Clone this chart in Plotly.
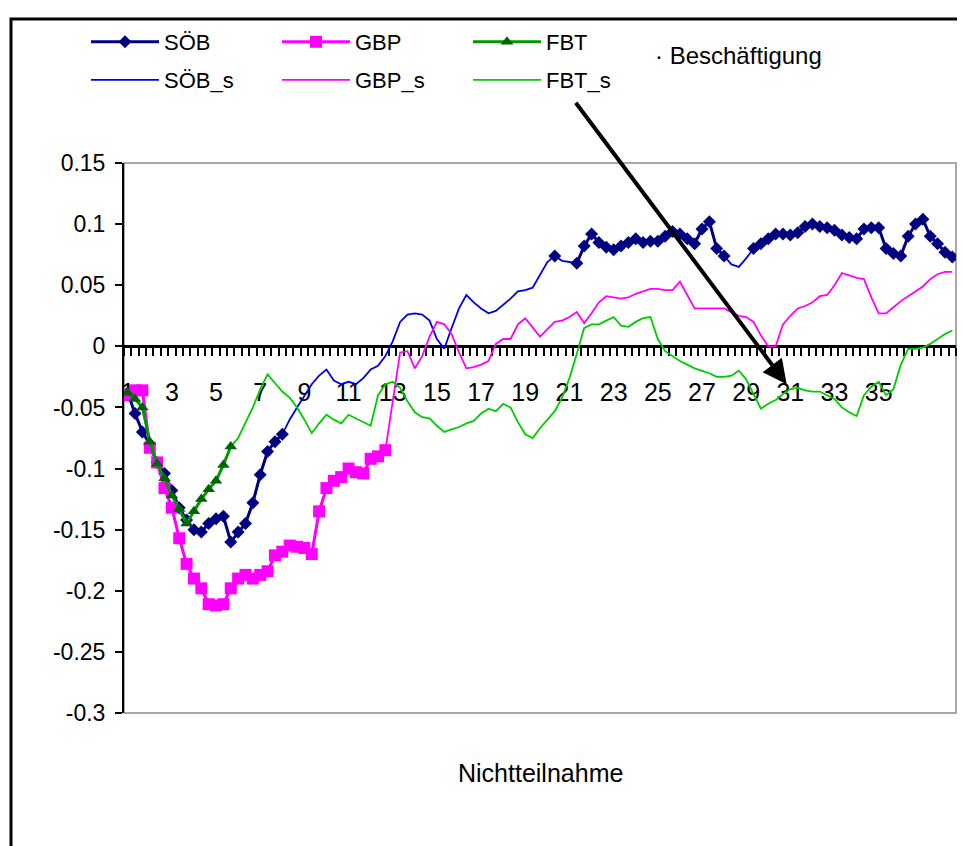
import plotly.graph_objects as go

# ---------------- data ----------------
period_index = list(range(113))
tick_positions = [0, 6, 12, 18, 24, 30, 36, 42, 48, 54, 60, 66, 72, 78, 84, 90, 96, 102]
tick_labels = ["1", "3", "5", "7", "9", "11", "13", "15", "17", "19", "21", "23",
               "25", "27", "29", "31", "33", "35"]
y_ticks = [0.15, 0.1, 0.05, 0, -0.05, -0.1, -0.15, -0.2, -0.25, -0.3]
y_tick_labels = ["0.15", "0.1", "0.05", "0", "-0.05", "-0.1", "-0.15", "-0.2", "-0.25", "-0.3"]

soeb_s = [
    -0.038, -0.055, -0.070, -0.080, -0.095, -0.104, -0.118, -0.132, -0.142, -0.150,
    -0.152, -0.145, -0.141, -0.139, -0.160, -0.152, -0.145, -0.128, -0.105, -0.086,
    -0.078, -0.072, -0.060, -0.050, -0.040, -0.031, -0.024, -0.019, -0.028, -0.031,
    -0.029, -0.031, -0.026, -0.019, -0.016, -0.008, 0.004, 0.020, 0.026, 0.027,
    0.026, 0.021, 0.006, -0.002, 0.015, 0.031, 0.042, 0.036, 0.031, 0.027,
    0.029, 0.034, 0.039, 0.045, 0.046, 0.048, 0.058, 0.069, 0.074, 0.070,
    0.069, 0.068, 0.082, 0.092, 0.085, 0.081, 0.079, 0.082, 0.085, 0.088,
    0.085, 0.086, 0.086, 0.090, 0.094, 0.092, 0.088, 0.084, 0.096, 0.102,
    0.080, 0.074, 0.067, 0.065, 0.072, 0.080, 0.084, 0.088, 0.092, 0.092,
    0.091, 0.093, 0.098, 0.100, 0.098, 0.097, 0.095, 0.091, 0.089, 0.088,
    0.096, 0.097, 0.097, 0.080, 0.076, 0.074, 0.090, 0.100, 0.104, 0.090,
    0.084, 0.077, 0.073,
]
gbp_s = [
    -0.040, -0.036, -0.036, -0.083, -0.095, -0.116, -0.132, -0.157, -0.178, -0.190,
    -0.198, -0.211, -0.212, -0.211, -0.198, -0.190, -0.187, -0.190, -0.187, -0.184,
    -0.171, -0.168, -0.163, -0.164, -0.165, -0.170, -0.135, -0.116, -0.110, -0.107,
    -0.100, -0.103, -0.104, -0.092, -0.090, -0.085, -0.045, -0.005, -0.004, -0.018,
    -0.008, 0.008, 0.020, 0.018, 0.010, -0.005, -0.018, -0.017, -0.015, -0.012,
    0.002, 0.006, 0.006, 0.018, 0.023, 0.015, 0.008, 0.014, 0.020, 0.021,
    0.024, 0.028, 0.019, 0.027, 0.036, 0.041, 0.040, 0.039, 0.040, 0.043,
    0.045, 0.047, 0.047, 0.046, 0.046, 0.053, 0.042, 0.031, 0.031, 0.031,
    0.031, 0.031, 0.028, 0.025, 0.024, 0.020, 0.009, 0.000, 0.000, 0.018,
    0.025, 0.031, 0.033, 0.036, 0.041, 0.042, 0.050, 0.060, 0.058, 0.056,
    0.055, 0.040, 0.027, 0.027, 0.032, 0.037, 0.041, 0.045, 0.049, 0.055,
    0.059, 0.061, 0.061,
]
fbt_s = [
    -0.038, -0.043, -0.050, -0.078, -0.096, -0.108, -0.122, -0.133, -0.145, -0.135,
    -0.125, -0.117, -0.110, -0.097, -0.082, -0.075, -0.063, -0.050, -0.035, -0.023,
    -0.030, -0.037, -0.042, -0.050, -0.060, -0.071, -0.063, -0.056, -0.060, -0.063,
    -0.056, -0.059, -0.062, -0.065, -0.040, -0.031, -0.029, -0.034, -0.045, -0.054,
    -0.058, -0.059, -0.065, -0.070, -0.068, -0.066, -0.063, -0.061, -0.055, -0.051,
    -0.053, -0.047, -0.050, -0.062, -0.072, -0.075, -0.067, -0.060, -0.053, -0.042,
    -0.026, -0.006, 0.015, 0.018, 0.018, 0.021, 0.024, 0.017, 0.016, 0.020,
    0.023, 0.024, 0.006, -0.004, -0.008, -0.012, -0.015, -0.018, -0.020, -0.022,
    -0.025, -0.025, -0.024, -0.020, -0.027, -0.039, -0.051, -0.047, -0.044, -0.039,
    -0.035, -0.034, -0.036, -0.037, -0.037, -0.040, -0.043, -0.050, -0.054, -0.057,
    -0.040, -0.033, -0.029, -0.040, -0.035, -0.015, -0.002, -0.002, -0.001, 0.002,
    0.006, 0.010, 0.013,
]

# index ranges where the marked (non-"_s") series are shown
soeb_marked_ranges = [(0, 21), (58, 58), (61, 81), (85, 112)]
gbp_marked_ranges = [(0, 35)]
fbt_marked_ranges = [(0, 14)]


def marked(values, ranges):
    return [v if any(a <= i <= b for a, b in ranges) else None
            for i, v in enumerate(values)]


soeb = marked(soeb_s, soeb_marked_ranges)
gbp = marked(gbp_s, gbp_marked_ranges)
fbt = marked(fbt_s, fbt_marked_ranges)

# ---------------- figure ----------------
FONT = "Liberation Sans, Arial, sans-serif"
fig = go.Figure()

fig.add_trace(go.Scatter(x=period_index, y=soeb_s, mode="lines", name="SÖB_s",
                         line=dict(color="#0000E6", width=1.8), legend="legend2"))
fig.add_trace(go.Scatter(x=period_index, y=gbp_s, mode="lines", name="GBP_s",
                         line=dict(color="#FF00FF", width=1.8), legend="legend2"))
fig.add_trace(go.Scatter(x=period_index, y=fbt_s, mode="lines", name="FBT_s",
                         line=dict(color="#00CC00", width=1.8), legend="legend2"))

fig.add_trace(go.Scatter(x=period_index, y=soeb, mode="lines+markers", name="SÖB",
                         line=dict(color="#000080", width=3),
                         marker=dict(symbol="diamond", size=10, color="#000080"),
                         connectgaps=False, legend="legend"))
fig.add_trace(go.Scatter(x=period_index, y=gbp, mode="lines+markers", name="GBP",
                         line=dict(color="#FF00FF", width=3),
                         marker=dict(symbol="square", size=12, color="#FF00FF"),
                         connectgaps=False, legend="legend"))
fig.add_trace(go.Scatter(x=period_index, y=fbt, mode="lines+markers", name="FBT",
                         line=dict(color="#009900", width=3),
                         marker=dict(symbol="triangle-up", size=11, color="#006400"),
                         connectgaps=False, legend="legend"))

LEGEND_X = (86 - 124) / 832

# the page body adds an 8 px offset; screen plot area is x 124..956, y 163..713
fig.update_layout(
    width=957, height=838,
    margin=dict(l=116, r=9, t=155, b=133),
    paper_bgcolor="white", plot_bgcolor="white",
    font=dict(family=FONT, color="black", size=22),
    xaxis=dict(
        range=[-0.5, 112.5], anchor="free", position=0.3 / 0.45,
        showline=True, linecolor="black", linewidth=2.5,
        tickmode="array", tickvals=tick_positions, ticktext=tick_labels,
        ticks="", ticklabelstandoff=23,
        tickfont=dict(size=25, family=FONT),
        minor=dict(ticks="outside", tick0=-0.5, dtick=1, ticklen=8,
                   tickwidth=2.2, tickcolor="black", showgrid=False),
        showgrid=False, zeroline=False, layer="below traces",
    ),
    yaxis=dict(
        range=[-0.3, 0.15], tickmode="array", tickvals=y_ticks, ticktext=y_tick_labels,
        showline=True, linecolor="black", linewidth=2,
        ticks="outside", ticklen=7, tickwidth=2, tickcolor="black",
        ticklabelstandoff=5,
        tickfont=dict(size=23, family=FONT),
        showgrid=False, zeroline=False,
    ),
    legend=dict(orientation="h", x=LEGEND_X, y=(713 - 42) / 550, xanchor="left",
                yanchor="middle", itemwidth=68, entrywidth=108,
                font=dict(size=22, family=FONT),
                bgcolor="rgba(0,0,0,0)", traceorder="normal"),
    legend2=dict(orientation="h", x=LEGEND_X, y=(713 - 80) / 550, xanchor="left",
                 yanchor="middle", itemwidth=68, entrywidth=108,
                 font=dict(size=22, family=FONT),
                 bgcolor="rgba(0,0,0,0)", traceorder="normal"),
    showlegend=True,
)

# plot-area border (grey) and outer chart frame (black)
fig.add_shape(type="rect", xref="paper", yref="paper", x0=0, y0=0, x1=1, y1=1,
              line=dict(color="#8c8c8c", width=1.5), layer="below")
fig.add_shape(type="rect", xref="paper", yref="paper",
              x0=(11 - 124) / 832, y0=(713 - 860) / 550,
              x1=(980 - 124) / 832, y1=(713 - 19) / 550,
              line=dict(color="black", width=3), layer="below")

fig.add_annotation(xref="paper", yref="paper", x=(653 - 124) / 832, y=(713 - 55) / 550,
                   text="· Beschäftigung", showarrow=False, xanchor="left", yanchor="middle",
                   font=dict(size=24, family=FONT))
fig.add_annotation(xref="paper", yref="paper", x=(540 - 124) / 832, y=(713 - 773) / 550,
                   text="Nichtteilnahme", showarrow=False, xanchor="center", yanchor="middle",
                   font=dict(size=25, family=FONT))
fig.add_annotation(x=89.5, y=-0.031, xref="x", yref="y", text="", showarrow=True,
                   ax=-212, ay=-283, arrowhead=2, arrowsize=1.2, arrowwidth=4,
                   arrowcolor="black")

fig.write_html("out.html")
